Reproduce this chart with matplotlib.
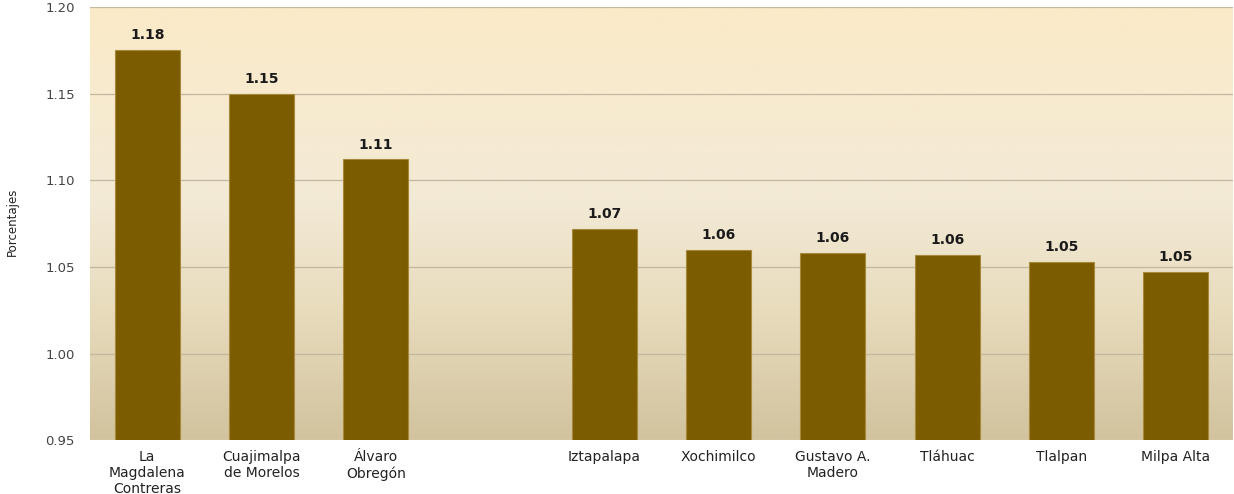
import matplotlib.pyplot as plt
import numpy as np
from matplotlib.colors import LinearSegmentedColormap

categories = [
    "La\nMagdalena\nContreras",
    "Cuajimalpa\nde Morelos",
    "Álvaro\nObregón",
    "",
    "Iztapalapa",
    "Xochimilco",
    "Gustavo A.\nMadero",
    "Tláhuac",
    "Tlalpan",
    "Milpa Alta",
]
values = [1.175, 1.150, 1.112, None, 1.072, 1.060, 1.058, 1.057, 1.053, 1.047]
labels = ["1.18", "1.15", "1.11", "", "1.07", "1.06", "1.06", "1.06", "1.05", "1.05"]
yticks = [0.95, 1.00, 1.05, 1.10, 1.15, 1.20]

fig = plt.figure(figsize=(12.34, 4.94), dpi=100)
ax = fig.add_axes([0.073, 0.109, 0.926, 0.877])

# background gradient
cmap = LinearSegmentedColormap.from_list(
    "bg", [(0.0, "#d2c39e"), (0.3, "#e8dcbd"), (0.55, "#f3ead6"), (1.0, "#fbeac8")]
)
grad = np.linspace(0, 1, 256).reshape(-1, 1)
ax.imshow(grad, cmap=cmap, aspect="auto", origin="lower",
          extent=[0, 1, 0, 1], transform=ax.transAxes, zorder=0)

x = np.arange(len(categories))
for xi, v, lab in zip(x, values, labels):
    if v is None:
        continue
    ax.bar(xi, v - 0.95, bottom=0.95, width=0.57, color="#7b5c00",
           edgecolor="#a8893c", linewidth=0.8, zorder=3)
    ax.text(xi, v + 0.0045, lab, ha="center", va="bottom",
            fontsize=10, fontweight="bold", color="#1a1a1a", zorder=4)

ax.set_xlim(-0.5, len(categories) - 0.5)
ax.set_ylim(0.95, 1.20)
ax.set_yticks(yticks)
ax.set_yticklabels([f"{t:.2f}" for t in yticks], fontsize=9.5, color="#444444")
ax.set_xticks(x)
ax.set_xticklabels(categories, fontsize=10, color="#222222", linespacing=1.2)
ax.tick_params(length=0)
ax.tick_params(axis="x", pad=7)
ax.tick_params(axis="y", pad=11)
for yv in yticks[1:]:
    ax.axhline(yv, color="#c2b79f", linewidth=0.9, zorder=1)

for s in ["top", "right", "left"]:
    ax.spines[s].set_visible(False)
ax.spines["bottom"].set_color("#ffffff")

fig.text(0.01, 0.55, "Porcentajes", rotation=90, va="center", ha="center",
         fontsize=8.5, family="Liberation Sans Narrow", color="#222222")

fig.savefig("out.png", dpi=100)
